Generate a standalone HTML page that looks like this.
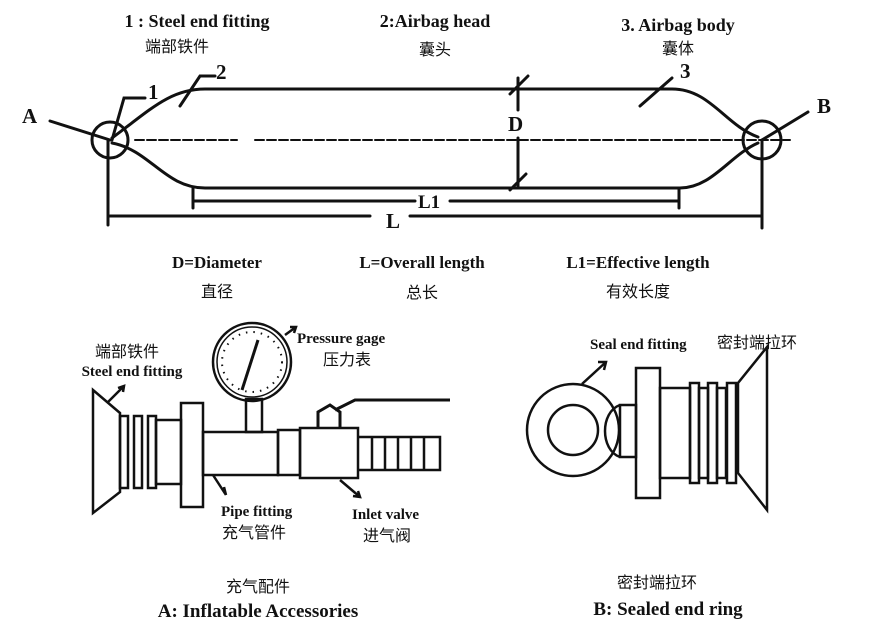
<!DOCTYPE html>
<html><head><meta charset="utf-8"><style>
body{margin:0;background:#fff;}
svg{display:block;}
.b{font-family:"Liberation Serif",serif;font-weight:bold;fill:#111;}
.c{font-family:"Liberation Sans","Noto Sans CJK SC",sans-serif;fill:#111;}
</style></head><body>
<svg width="876" height="636" viewBox="0 0 876 636" xmlns="http://www.w3.org/2000/svg">
<g fill="none" stroke="#111" stroke-width="3" stroke-linecap="round">
<path d="M112 138 C150 110 170 89 205 89 L672 89 C710 89 725 125 758 137"/>
<path d="M112 143 C150 150 165 188 205 188 L680 188 C712 188 730 155 758 143"/>
<circle cx="110" cy="140" r="18"/>
<circle cx="762" cy="140" r="19"/>
<path d="M135 140 L237 140 M255 140 L790 140" stroke-width="2" stroke-dasharray="9 3"/>
<path d="M518 78 L518 110 M518 138 L518 186 M510 94 L528 76 M510 190 L526 174"/>
<path d="M193 188 L193 208 M193 201 L415 201 M450 201 L679 201 M679 188 L679 208"/>
<path d="M108 140 L108 225 M762 140 L762 228 M110 216 L370 216 M410 216 L762 216"/>
<path d="M50 121 L110 140 M112 140 L124 98 L145 98 M180 106 L200 76 L215 76 M640 106 L672 78 M762 140 L808 112"/>
</g>
<text class="b" x="197" y="27" font-size="18" text-anchor="middle">1 : Steel end fitting</text>
<text class="c" x="177" y="52" font-size="16" text-anchor="middle">端部铁件</text>
<text class="b" x="435" y="27" font-size="18" text-anchor="middle">2:Airbag head</text>
<text class="c" x="435" y="55" font-size="16" text-anchor="middle">囊头</text>
<text class="b" x="678" y="31" font-size="18" text-anchor="middle">3. Airbag body</text>
<text class="c" x="678" y="54" font-size="16" text-anchor="middle">囊体</text>
<text class="b" x="22" y="123" font-size="21">A</text>
<text class="b" x="817" y="113" font-size="21">B</text>
<text class="b" x="148" y="99" font-size="21">1</text>
<text class="b" x="216" y="79" font-size="21">2</text>
<text class="b" x="680" y="78" font-size="21">3</text>
<text class="b" x="508" y="131" font-size="21">D</text>
<text class="b" x="418" y="208" font-size="19">L1</text>
<text class="b" x="386" y="228" font-size="21">L</text>
<text class="b" x="217" y="268" font-size="17" text-anchor="middle">D=Diameter</text>
<text class="c" x="217" y="297" font-size="16" text-anchor="middle">直径</text>
<text class="b" x="422" y="268" font-size="17" text-anchor="middle">L=Overall length</text>
<text class="c" x="422" y="298" font-size="16" text-anchor="middle">总长</text>
<text class="b" x="638" y="268" font-size="17" text-anchor="middle">L1=Effective length</text>
<text class="c" x="638" y="297" font-size="16" text-anchor="middle">有效长度</text>

<g fill="none" stroke="#111" stroke-width="2.5">
<path d="M93 390 L120 413 L120 492 L93 513 Z"/>
<rect x="120" y="416" width="8" height="72"/><rect x="134" y="416" width="8" height="72"/><rect x="148" y="416" width="8" height="72"/>
<rect x="156" y="420" width="25" height="64"/>
<rect x="181" y="403" width="22" height="104"/>
<rect x="203" y="432" width="75" height="43"/>
<rect x="246" y="399" width="16" height="33"/>
<circle cx="252" cy="362" r="39"/><circle cx="252" cy="362" r="35" stroke-width="1.5"/>
<circle cx="252" cy="362" r="30" stroke-width="2" stroke-dasharray="1.5 6"/>
<path d="M242 390 L258 340" stroke-width="3"/>
<rect x="278" y="430" width="22" height="45"/>
<rect x="300" y="428" width="58" height="50"/>
<path d="M318 428 L318 412 L330 405 L340 412 L340 428 M335 410 L355 400 L450 400" stroke-width="3"/>
<path d="M358 437 L440 437 L440 470 L358 470 M372 437 L372 470 M385 437 L385 470 M398 437 L398 470 M411 437 L411 470 M424 437 L424 470"/>
<path d="M108 402 L124 386 M118 388 L124 386 L123 392 M213 475 L226 495 M224 487 L226 495 M340 480 L360 497 M353 496 L360 497 L358 491 M285 335 L296 327 M290 327 L296 327 L294 333"/>
</g>
<text class="c" x="127" y="357" font-size="16" text-anchor="middle">端部铁件</text>
<text class="b" x="132" y="376" font-size="15" text-anchor="middle">Steel end fitting</text>
<text class="b" x="297" y="343" font-size="15">Pressure gage</text>
<text class="c" x="323" y="365" font-size="16">压力表</text>
<text class="b" x="221" y="516" font-size="15">Pipe fitting</text>
<text class="c" x="222" y="538" font-size="16">充气管件</text>
<text class="b" x="352" y="519" font-size="15">Inlet valve</text>
<text class="c" x="363" y="541" font-size="16">进气阀</text>
<text class="c" x="258" y="592" font-size="16" text-anchor="middle">充气配件</text>
<text class="b" x="258" y="617" font-size="19" text-anchor="middle">A: Inflatable Accessories</text>

<g fill="none" stroke="#111" stroke-width="2.5">
<circle cx="573" cy="430" r="46"/><circle cx="573" cy="430" r="25"/>
<path d="M620 405 C600 412 600 450 620 457"/>
<rect x="620" y="405" width="16" height="52"/>
<rect x="636" y="368" width="24" height="130"/>
<rect x="660" y="388" width="30" height="90"/>
<rect x="690" y="383" width="9" height="100"/><rect x="708" y="383" width="9" height="100"/><rect x="727" y="383" width="9" height="100"/>
<rect x="699" y="388" width="9" height="90"/><rect x="717" y="388" width="9" height="90"/>
<path d="M738 383 L767 347 L767 510 L738 473 Z"/>
<path d="M582 384 L606 362 M598 362 L606 362 L604 370"/>
</g>
<text class="b" x="590" y="349" font-size="15">Seal end fitting</text>
<text class="c" x="717" y="348" font-size="16">密封端拉环</text>
<text class="c" x="657" y="588" font-size="16" text-anchor="middle">密封端拉环</text>
<text class="b" x="668" y="615" font-size="19" text-anchor="middle">B: Sealed end ring</text>
</svg>
</body></html>
